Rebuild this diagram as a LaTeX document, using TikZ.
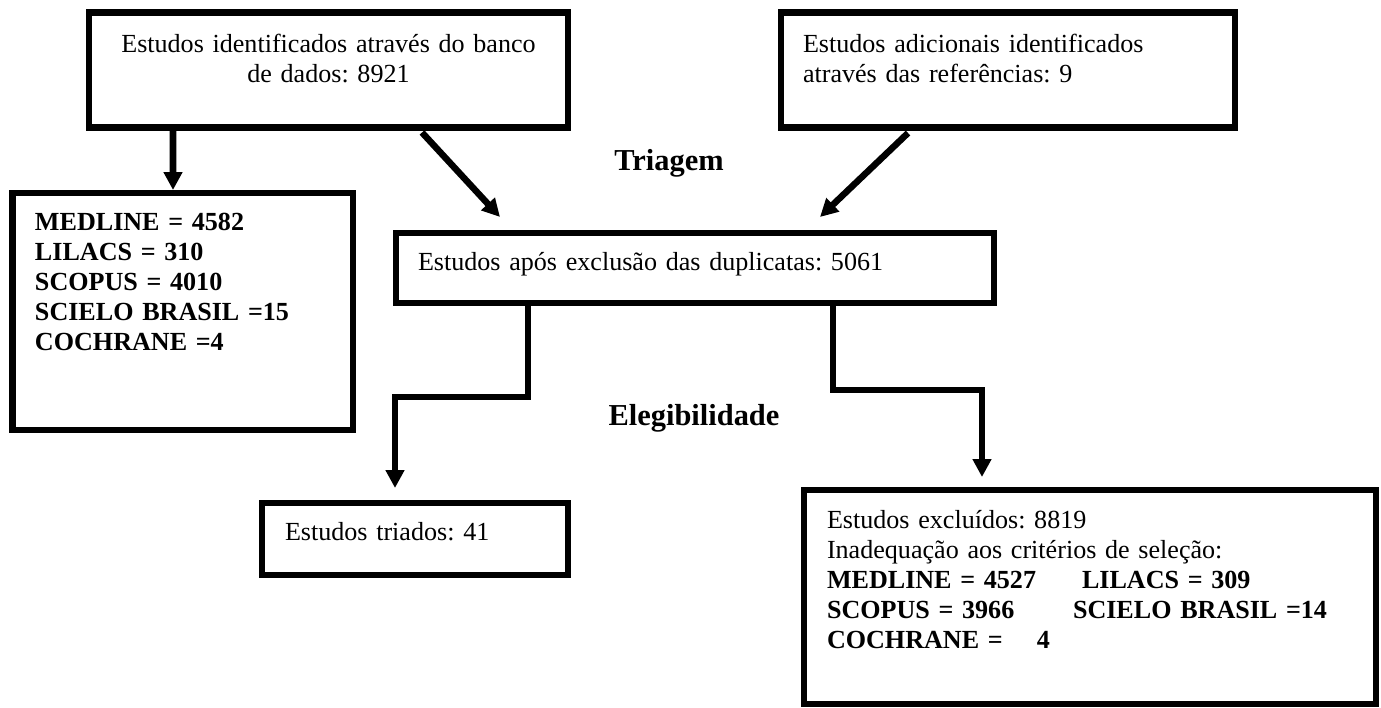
\documentclass[tikz,border=0pt]{standalone}
\usepackage{fontspec}
\setmainfont{Liberation Serif}
\usetikzlibrary{arrows.meta,calc}
\newlength\pxunit
\setlength\pxunit{0.46pt}
\frenchspacing
\begin{document}
\begin{tikzpicture}[
x=0.46pt, y=-0.46pt,
box/.style={draw, line width=3pt, rectangle, anchor=north west, outer sep=0pt,
  inner ysep=0pt, align=left, font=\fontsize{12pt}{13.8pt}\selectfont},
arr/.style={line width=3pt, -{Triangle[length=8.2pt,width=8.2pt]}},
stage/.style={anchor=base, font=\fontsize{14pt}{16pt}\selectfont\bfseries},
]
\useasboundingbox (0,0) rectangle (1381,708);
% caixas
\node [box, align=center, minimum width=479\pxunit, inner xsep=22\pxunit, text width=435\pxunit,
  text height=39.5\pxunit, text depth=75.5\pxunit] (ident) at (89,12.5)
  {Estudos identificados através do banco\\de dados: 8921};
\node [box, minimum width=454\pxunit, inner xsep=22\pxunit, text width=410\pxunit,
  text height=39.5\pxunit, text depth=75.5\pxunit] (adic) at (781,12.5)
  {Estudos adicionais identificados\\através das referências: 9};
\node [box, minimum width=340.5\pxunit, inner xsep=22.5\pxunit, text width=295.5\pxunit,
  text height=37\pxunit, text depth=200\pxunit] (bases) at (12.5,193)
  {\bfseries MEDLINE = 4582\\LILACS = 310\\SCOPUS = 4010\\SCIELO BRASIL =15\\COCHRANE =4};
\node [box, minimum width=598\pxunit, inner xsep=22\pxunit, text width=554\pxunit,
  text height=37\pxunit, text depth=33\pxunit] (dupl) at (396,233)
  {Estudos após exclusão das duplicatas: 5061};
\node [box, minimum width=306\pxunit, inner xsep=23\pxunit, text width=260\pxunit,
  text height=37\pxunit, text depth=35\pxunit] (triad) at (262,503)
  {Estudos triados: 41};
\node [box, minimum width=572\pxunit, inner xsep=23\pxunit, text width=526\pxunit,
  text height=38\pxunit, text depth=176\pxunit] (excl) at (804,490)
  {Estudos excluídos: 8819\\Inadequação aos critérios de seleção:\\
   \textbf{\makebox[255\pxunit][l]{MEDLINE = 4527}LILACS = 309}\\
   \textbf{\makebox[246\pxunit][l]{SCOPUS = 3966}SCIELO BRASIL =14}\\
   \textbf{\makebox[210\pxunit][l]{COCHRANE =}4}};
% etapas
\node [stage] (triagem) at (669,170) {Triagem};
\node [stage] (eleg) at (694,425) {Elegibilidade};
% setas
\draw [arr] ($(ident.south west)+(84,0)$) -- ($(bases.north west)+(160.5,-3)$);
\draw [arr] ($(ident.south west)+(333,5)$) -- ($(dupl.north west)+(104,-16)$);
\draw [arr] ($(adic.south west)+(127,5.5)$) -- ($(dupl.north west)+(424,-16)$);
\draw [arr] ($(dupl.south west)+(132,0)$) -- ++(0,94) -| ($(triad.north west)+(133,-15)$);
\draw [arr] ($(dupl.south west)+(437,0)$) -- ++(0,87) -| ($(excl.north west)+(178,-13)$);
\end{tikzpicture}
\end{document}
